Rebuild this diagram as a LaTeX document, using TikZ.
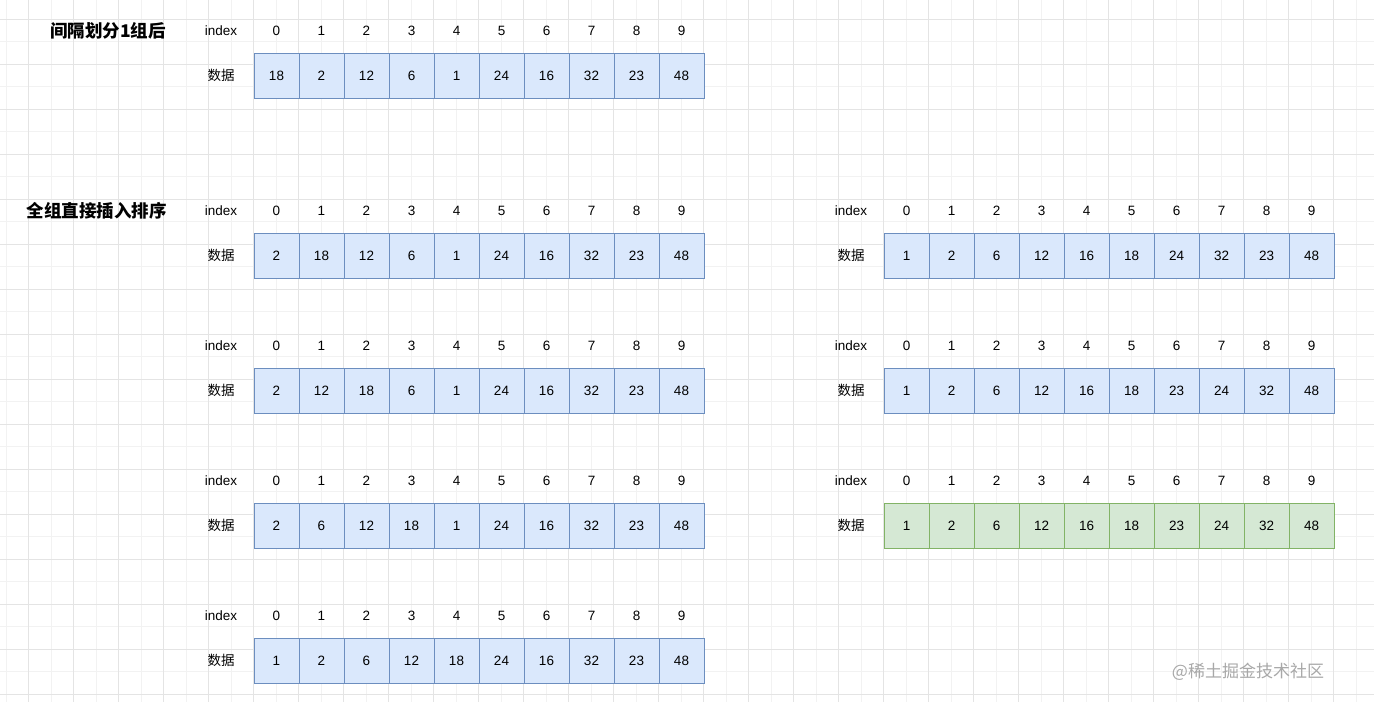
\documentclass[tikz,border=0pt]{standalone}
\usepackage{fontspec}
\setmainfont{Liberation Sans}
\newfontfamily\cjk{Noto Sans CJK SC}
\definecolor{bfill}{HTML}{DAE8FC}
\definecolor{bline}{HTML}{6C8EBF}
\definecolor{gfill}{HTML}{D5E8D4}
\definecolor{gline}{HTML}{82B366}
\definecolor{gridmaj}{HTML}{E4E4E4}
\definecolor{gridmin}{HTML}{F2F2F2}
\definecolor{wm}{HTML}{A8A8A8}
\tikzset{
  lbl/.style={inner sep=0pt, text height=9.5pt, text depth=0pt, font=\fontsize{13.5}{15}\selectfont},
  idx/.style={inner sep=0pt, text height=9.5pt, text depth=0pt, font=\fontsize{13.5}{15}\selectfont},
  cellbase/.style={line width=0.9pt, minimum width=45pt, minimum height=45pt, inner sep=0pt, text height=9.5pt, text depth=0pt, font=\fontsize{13.5}{15}\selectfont},
  bluecell/.style={cellbase, draw=bline, fill=bfill},
  greencell/.style={cellbase, draw=gline, fill=gfill},
  titletext/.style={inner sep=0pt, font=\cjk\bfseries\fontsize{17.5}{20}\selectfont},
}
\newcommand{\datarow}[6]{%
  \node[lbl] (#1-idx) at (#2,#4) {index};
  \node[lbl] (#1-dat) at (#2,#4+44.5) {\cjk 数据};
  \foreach \v [count=\i from 0] in {#5} {
    \node[idx] (#1-i\i) at ({#3+22.5+45*\i},#4) {\i};
    \node[#6] (#1-c\i) at ({#3+22.5+45*\i},#4+44.5) {\v};
  }%
}
\begin{document}
\begin{tikzpicture}[x=1pt,y=-1pt]
\useasboundingbox (0,0) rectangle (1374,702);
\fill[white] (0,0) rectangle (1374,702);
% grid
\foreach \k in {0,...,61} {
  \draw[gridmin, line width=0.6pt] ({6+22.5*\k},0) -- ({6+22.5*\k},702);
}
\foreach \k in {0,...,31} {
  \draw[gridmin, line width=0.6pt] (0,{-3.5+22.5*\k}) -- (1374,{-3.5+22.5*\k});
}
\foreach \k in {0,...,30} {
  \draw[gridmaj, line width=0.6pt] ({28.5+45*\k},0) -- ({28.5+45*\k},702);
}
\foreach \k in {0,...,15} {
  \draw[gridmaj, line width=0.6pt] (0,{19+45*\k}) -- (1374,{19+45*\k});
}
% titles
\node[titletext] (t1) at (108,31) {间隔划分1组后};
\node[titletext] (t2) at (97,211) {全组直接插入排序};
% rows
\datarow{r0}{221}{254}{31}{18,2,12,6,1,24,16,32,23,48}{bluecell}
\datarow{l1}{221}{254}{211}{2,18,12,6,1,24,16,32,23,48}{bluecell}
\datarow{l2}{221}{254}{346}{2,12,18,6,1,24,16,32,23,48}{bluecell}
\datarow{l3}{221}{254}{481}{2,6,12,18,1,24,16,32,23,48}{bluecell}
\datarow{l4}{221}{254}{616}{1,2,6,12,18,24,16,32,23,48}{bluecell}
\datarow{r1}{851}{884}{211}{1,2,6,12,16,18,24,32,23,48}{bluecell}
\datarow{r2}{851}{884}{346}{1,2,6,12,16,18,23,24,32,48}{bluecell}
\datarow{r3}{851}{884}{481}{1,2,6,12,16,18,23,24,32,48}{greencell}
% watermark
\node[inner sep=0pt, text=wm, font=\cjk\fontsize{17}{20}\selectfont] (wmark) at (1248,672) {@稀土掘金技术社区};
\end{tikzpicture}
\end{document}
